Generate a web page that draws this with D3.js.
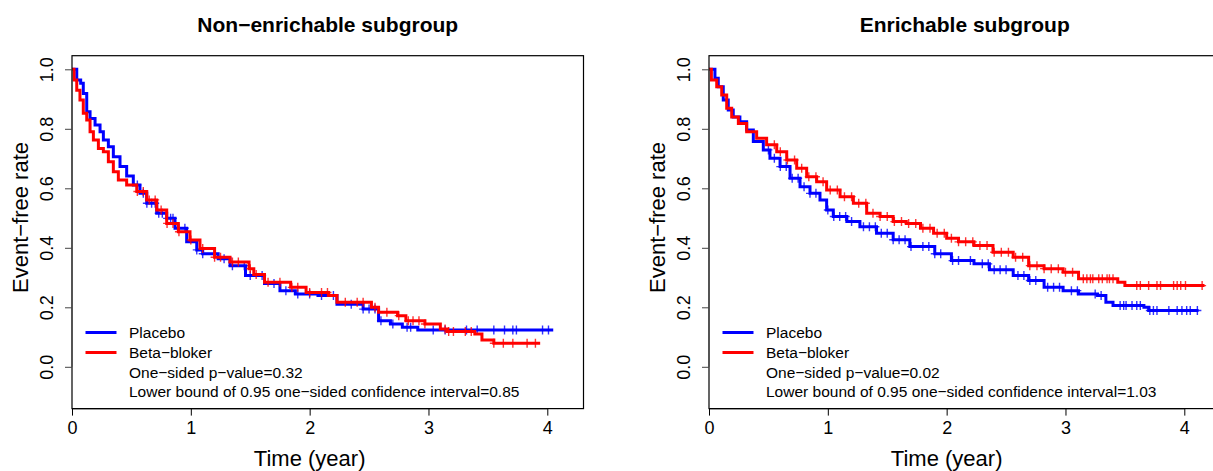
<!DOCTYPE html>
<html><head><meta charset="utf-8">
<script src="https://cdn.jsdelivr.net/npm/d3@7"></script>
<style>body{margin:0;background:#fff}svg{display:block;font-family:"Liberation Sans",Arial,Helvetica,sans-serif}</style>
</head><body><svg id="c" width="1213" height="471"></svg>
<script>
// ---------- data ----------
const panelTitles = ["Non\u2212enrichable subgroup", "Enrichable subgroup"];
const seriesNames = ["Placebo", "Beta\u2212bloker"];
const seriesColors = ["#0000ff", "#ff0000"];
const pValues = ["0.32", "0.02"];
const lowerBounds = ["0.85", "1.03"];
const xTicks = [0, 1, 2, 3, 4];
const yTicks = [0, 0.2, 0.4, 0.6, 0.8, 1.0];

// Non-enrichable, Placebo: [time, survival]
const nonPlaceboT = [0,0.04,0.073,0.095,0.124,0.152,0.194,0.236,0.264,0.306,0.348,0.404,0.46,0.516,0.572,0.629,0.713,0.797,0.867,0.965,1.05,1.1,1.23,1.33,1.46,1.62,1.75,1.88,2.07,2.23,2.45,2.58,2.68,2.78,2.91,4.05];
const nonPlaceboS = [1,0.964,0.953,0.919,0.857,0.835,0.813,0.79,0.762,0.74,0.706,0.673,0.641,0.611,0.583,0.55,0.516,0.499,0.466,0.42,0.393,0.38,0.363,0.34,0.307,0.28,0.256,0.245,0.24,0.21,0.194,0.155,0.144,0.133,0.124,0.124];
const nonPlaceboCens = [0.55,0.6,0.63,0.67,0.7,0.73,0.76,0.8,0.83,0.85,0.9,0.95,1.05,1.1,1.2,1.28,1.35,1.45,1.5,1.6,1.7,1.8,1.9,2.0,2.1,2.2,2.35,2.45,2.5,2.55,2.6,2.7,2.82,2.85,3.04,3.14,3.32,3.41,3.55,3.64,3.71,3.74,3.96,4.01];
// Non-enrichable, Beta-bloker
const nonBetaT = [0,0.017,0.04,0.067,0.095,0.124,0.152,0.18,0.222,0.264,0.306,0.348,0.39,0.46,0.545,0.629,0.713,0.797,0.895,0.993,1.077,1.2,1.33,1.49,1.53,1.62,1.84,1.97,2.16,2.23,2.52,2.58,2.74,2.81,2.97,3.1,3.16,3.39,3.45,3.55,3.94];
const nonBetaS = [1,0.964,0.93,0.897,0.852,0.83,0.79,0.762,0.734,0.723,0.689,0.656,0.628,0.611,0.589,0.561,0.527,0.482,0.454,0.426,0.398,0.368,0.352,0.33,0.31,0.284,0.267,0.25,0.24,0.217,0.2,0.183,0.172,0.155,0.144,0.127,0.119,0.11,0.09,0.079,0.079];
const nonBetaCens = [0.55,0.6,0.65,0.7,0.75,0.8,0.85,0.9,1.0,1.1,1.2,1.25,1.35,1.4,1.5,1.55,1.65,1.75,1.85,1.9,2.0,2.1,2.15,2.3,2.4,2.45,2.55,2.65,2.75,2.83,2.87,2.92,2.97,3.14,3.17,3.21,3.31,3.36,3.55,3.63,3.71,3.83,3.9];
// Enrichable, Placebo
const enrPlaceboT = [0,0.05,0.078,0.12,0.162,0.204,0.26,0.317,0.373,0.457,0.513,0.598,0.682,0.766,0.85,0.934,0.99,1.046,1.16,1.27,1.41,1.55,1.69,1.9,2.04,2.23,2.36,2.56,2.69,2.82,2.98,3.11,3.27,3.34,3.4,3.66,3.7,4.12];
const enrPlaceboS = [1,0.97,0.941,0.897,0.863,0.84,0.824,0.796,0.757,0.729,0.701,0.673,0.634,0.605,0.583,0.561,0.527,0.505,0.488,0.471,0.449,0.427,0.404,0.38,0.357,0.346,0.326,0.307,0.29,0.267,0.256,0.245,0.24,0.217,0.206,0.2,0.189,0.189];
const enrPlaceboCens = [0.5,0.55,0.6,0.65,0.7,0.75,0.8,0.85,0.9,1.0,1.05,1.1,1.15,1.2,1.3,1.35,1.4,1.45,1.5,1.55,1.6,1.65,1.7,1.8,1.85,1.9,1.95,2.05,2.1,2.2,2.3,2.35,2.4,2.45,2.5,2.6,2.65,2.7,2.75,2.85,2.9,2.95,3.05,3.1,3.25,3.3,3.46,3.49,3.51,3.56,3.6,3.63,3.71,3.74,3.77,3.87,3.94,3.98,4.02,4.05,4.11];
// Enrichable, Beta-bloker
const enrBetaT = [0,0.02,0.065,0.107,0.149,0.191,0.247,0.317,0.401,0.485,0.57,0.654,0.738,0.822,0.906,0.99,1.103,1.215,1.327,1.44,1.55,1.66,1.78,1.89,2.0,2.1,2.23,2.39,2.56,2.69,2.82,2.98,3.11,3.44,3.5,4.17];
const enrBetaS = [1,0.964,0.941,0.914,0.869,0.84,0.818,0.79,0.768,0.746,0.723,0.695,0.667,0.639,0.622,0.594,0.572,0.55,0.516,0.505,0.488,0.482,0.466,0.449,0.432,0.42,0.408,0.385,0.368,0.34,0.33,0.318,0.296,0.284,0.273,0.273];
const enrBetaCens = [0.55,0.6,0.66,0.72,0.78,0.84,0.9,0.96,1.02,1.08,1.14,1.2,1.26,1.32,1.38,1.44,1.5,1.56,1.62,1.68,1.74,1.8,1.86,1.92,1.98,2.04,2.1,2.16,2.22,2.28,2.34,2.4,2.46,2.52,2.58,2.64,2.7,2.76,2.82,2.88,2.94,3.0,3.06,3.15,3.18,3.21,3.23,3.28,3.31,3.35,3.37,3.4,3.6,3.63,3.7,3.77,3.8,3.91,3.94,3.97,4.01,4.15];

const panels = [
  {left:72, series:[[nonPlaceboT,nonPlaceboS,nonPlaceboCens],[nonBetaT,nonBetaS,nonBetaCens]]},
  {left:709, series:[[enrPlaceboT,enrPlaceboS,enrPlaceboCens],[enrBetaT,enrBetaS,enrBetaCens]]}
];

// ---------- drawing ----------
const svg = d3.select("#c");
const boxW = 511.5, boxTop = 55.7, boxBottom = 408.6;

panels.forEach((p, pi) => {
  const x = d3.scaleLinear().domain([0, 4]).range([p.left, p.left + 475.3]);
  const y = d3.scaleLinear().domain([0, 1]).range([366.8, 69.3]);
  const g = svg.append("g");

  // title
  g.append("text").attr("x", p.left + boxW/2).attr("y", 31.5)
    .attr("text-anchor","middle").attr("font-weight","bold").attr("font-size",21)
    .text(panelTitles[pi]);

  // curves
  const clipId = "clip" + pi;
  svg.append("clipPath").attr("id", clipId).append("rect")
    .attr("x", p.left).attr("y", boxTop).attr("width", boxW).attr("height", boxBottom - boxTop);
  const cg = g.append("g").attr("clip-path", `url(#${clipId})`);
  p.series.forEach((s, si) => {
    const [T, S, C] = s;
    const pts = T.map((t, i) => [t, S[i]]);
    const line = d3.line().x(d => x(d[0])).y(d => y(d[1])).curve(d3.curveStepAfter);
    cg.append("path").attr("d", line(pts)).attr("fill","none")
      .attr("stroke", seriesColors[si]).attr("stroke-width", 3).attr("stroke-linejoin","miter");
    const bis = d3.bisector(d => d).right;
    C.forEach(c => {
      const k = Math.max(0, bis(T, c) - 1);
      const cx = x(c), cy = y(S[k]);
      cg.append("path").attr("d", `M${cx},${cy-4.5}V${cy+4.5}M${cx-4},${cy}H${cx+4}`)
        .attr("stroke", seriesColors[si]).attr("stroke-width", 1.4).attr("opacity", 0.8);
    });
  });

  // box
  g.append("rect").attr("x", p.left).attr("y", boxTop).attr("width", boxW)
    .attr("height", boxBottom - boxTop).attr("fill","none").attr("stroke","#000").attr("stroke-width",1.2);

  // x axis
  const xa = g.append("g").attr("transform", `translate(0,${boxBottom})`)
    .call(d3.axisBottom(x).tickValues(xTicks).tickFormat(d3.format("d")).tickSize(7).tickSizeOuter(0).tickPadding(6));
  xa.select(".domain").attr("stroke","#000").attr("stroke-width",1.2)
    .attr("d", `M${x(0)},0H${x(4)}`);
  xa.selectAll("text").attr("font-size",18).attr("font-family","inherit").attr("fill","#000");
  xa.selectAll("line").attr("stroke","#000");

  // y axis
  const ya = g.append("g").attr("transform", `translate(${p.left},0)`)
    .call(d3.axisLeft(y).tickValues(yTicks).tickFormat(d3.format(".1f")).tickSize(7).tickSizeOuter(0));
  ya.select(".domain").attr("stroke","#444").attr("d", `M0,${y(0)}V${y(1)}`);
  ya.selectAll("line").attr("stroke","#444");
  ya.selectAll(".tick text").attr("font-size",18).attr("font-family","inherit").attr("fill","#000")
    .attr("text-anchor","middle").attr("x",0).attr("dy",0)
    .attr("transform","translate(-25,0) rotate(-90)").attr("dominant-baseline","central");

  // axis titles
  g.append("text").attr("x", x(2)).attr("y", 466).attr("text-anchor","middle")
    .attr("font-size",22).text("Time (year)");
  g.append("text").attr("transform", `translate(${p.left - 44.5},217.5) rotate(-90)`)
    .attr("text-anchor","middle").attr("font-size",22).text("Event\u2212free rate");

  // legend
  const lx = p.left + 13.5, tx = p.left + 57;
  const rows = [seriesNames[0], seriesNames[1], "One\u2212sided p\u2212value=" + pValues[pi],
    "Lower bound of 0.95 one\u2212sided confidence interval=" + lowerBounds[pi]];
  const ys = [332.5, 352.5, 372, 391.5];
  rows.forEach((r, i) => {
    if (i < 2) g.append("line").attr("x1", lx).attr("x2", lx + 31).attr("y1", ys[i]).attr("y2", ys[i])
      .attr("stroke", seriesColors[i]).attr("stroke-width", 3);
    g.append("text").attr("x", tx).attr("y", ys[i]).attr("dominant-baseline","central")
      .attr("font-size",15.5).text(r);
  });
});
</script></body></html>
